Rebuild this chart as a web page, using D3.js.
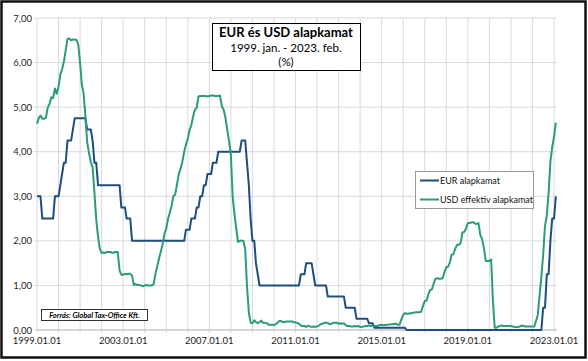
<!DOCTYPE html>
<html>
<head>
<meta charset="utf-8">
<script src="https://cdn.jsdelivr.net/npm/d3@7"></script>
<style>
  body { margin: 0; background: #fff; }
  svg { display: block; font-family: Lato, "Noto Sans", sans-serif; }
</style>
</head>
<body>
<svg id="chart" width="588" height="361"></svg>
<script>
// havi adatok 1999.01 - 2023.02
const startMonth = new Date(1999, 0, 1);

const eurRate = [
  3.00, 3.00, 3.00, 2.50, 2.50, 2.50, 2.50, 2.50, 2.50, 2.50, 3.00, 3.00, // 1999
  3.00, 3.25, 3.50, 3.75, 3.75, 4.25, 4.25, 4.25, 4.50, 4.75, 4.75, 4.75, // 2000
  4.75, 4.75, 4.75, 4.75, 4.50, 4.50, 4.50, 4.25, 3.75, 3.75, 3.25, 3.25, // 2001
  3.25, 3.25, 3.25, 3.25, 3.25, 3.25, 3.25, 3.25, 3.25, 3.25, 3.25, 2.75, // 2002
  2.75, 2.75, 2.50, 2.50, 2.50, 2.00, 2.00, 2.00, 2.00, 2.00, 2.00, 2.00, // 2003
  2.00, 2.00, 2.00, 2.00, 2.00, 2.00, 2.00, 2.00, 2.00, 2.00, 2.00, 2.00, // 2004
  2.00, 2.00, 2.00, 2.00, 2.00, 2.00, 2.00, 2.00, 2.00, 2.00, 2.00, 2.25, // 2005
  2.25, 2.25, 2.50, 2.50, 2.50, 2.75, 2.75, 3.00, 3.00, 3.25, 3.25, 3.50, // 2006
  3.50, 3.50, 3.75, 3.75, 3.75, 4.00, 4.00, 4.00, 4.00, 4.00, 4.00, 4.00, // 2007
  4.00, 4.00, 4.00, 4.00, 4.00, 4.00, 4.25, 4.25, 4.25, 3.75, 3.25, 2.50, // 2008
  2.00, 2.00, 1.50, 1.25, 1.00, 1.00, 1.00, 1.00, 1.00, 1.00, 1.00, 1.00, // 2009
  1.00, 1.00, 1.00, 1.00, 1.00, 1.00, 1.00, 1.00, 1.00, 1.00, 1.00, 1.00, // 2010
  1.00, 1.00, 1.00, 1.25, 1.25, 1.25, 1.50, 1.50, 1.50, 1.50, 1.25, 1.00, // 2011
  1.00, 1.00, 1.00, 1.00, 1.00, 1.00, 0.75, 0.75, 0.75, 0.75, 0.75, 0.75, // 2012
  0.75, 0.75, 0.75, 0.75, 0.50, 0.50, 0.50, 0.50, 0.50, 0.50, 0.25, 0.25, // 2013
  0.25, 0.25, 0.25, 0.25, 0.25, 0.15, 0.15, 0.15, 0.05, 0.05, 0.05, 0.05, // 2014
  0.05, 0.05, 0.05, 0.05, 0.05, 0.05, 0.05, 0.05, 0.05, 0.05, 0.05, 0.05, // 2015
  0.05, 0.05, 0.00, 0.00, 0.00, 0.00, 0.00, 0.00, 0.00, 0.00, 0.00, 0.00, // 2016
  0.00, 0.00, 0.00, 0.00, 0.00, 0.00, 0.00, 0.00, 0.00, 0.00, 0.00, 0.00, // 2017
  0.00, 0.00, 0.00, 0.00, 0.00, 0.00, 0.00, 0.00, 0.00, 0.00, 0.00, 0.00, // 2018
  0.00, 0.00, 0.00, 0.00, 0.00, 0.00, 0.00, 0.00, 0.00, 0.00, 0.00, 0.00, // 2019
  0.00, 0.00, 0.00, 0.00, 0.00, 0.00, 0.00, 0.00, 0.00, 0.00, 0.00, 0.00, // 2020
  0.00, 0.00, 0.00, 0.00, 0.00, 0.00, 0.00, 0.00, 0.00, 0.00, 0.00, 0.00, // 2021
  0.00, 0.00, 0.00, 0.00, 0.00, 0.00, 0.50, 0.50, 1.25, 1.25, 2.00, 2.50, // 2022
  2.50, 3.00                                                              // 2023
];

const usdRate = [
  4.63, 4.76, 4.81, 4.74, 4.74, 4.76, 4.99, 5.07, 5.22, 5.20, 5.42, 5.30, // 1999
  5.45, 5.73, 5.85, 6.02, 6.27, 6.53, 6.54, 6.50, 6.52, 6.51, 6.51, 6.40, // 2000
  5.98, 5.49, 5.31, 4.80, 4.21, 3.97, 3.77, 3.65, 3.07, 2.49, 2.09, 1.82, // 2001
  1.73, 1.74, 1.73, 1.75, 1.75, 1.75, 1.73, 1.74, 1.75, 1.75, 1.34, 1.24, // 2002
  1.24, 1.26, 1.25, 1.26, 1.26, 1.22, 1.01, 1.03, 1.01, 1.01, 1.00, 0.98, // 2003
  1.00, 1.01, 1.00, 1.00, 1.00, 1.03, 1.26, 1.43, 1.61, 1.76, 1.93, 2.16, // 2004
  2.28, 2.50, 2.63, 2.79, 3.00, 3.04, 3.26, 3.50, 3.62, 3.78, 4.00, 4.16, // 2005
  4.29, 4.49, 4.59, 4.79, 4.94, 4.99, 5.24, 5.25, 5.25, 5.25, 5.25, 5.24, // 2006
  5.25, 5.26, 5.26, 5.25, 5.25, 5.25, 5.26, 5.02, 4.94, 4.76, 4.49, 4.24, // 2007
  3.94, 2.98, 2.61, 2.28, 1.98, 2.00, 2.01, 2.00, 1.81, 0.97, 0.39, 0.16, // 2008
  0.15, 0.22, 0.18, 0.15, 0.18, 0.21, 0.16, 0.16, 0.15, 0.12, 0.12, 0.12, // 2009
  0.11, 0.13, 0.16, 0.20, 0.20, 0.18, 0.18, 0.19, 0.19, 0.19, 0.19, 0.18, // 2010
  0.17, 0.16, 0.14, 0.10, 0.09, 0.09, 0.07, 0.10, 0.08, 0.07, 0.08, 0.07, // 2011
  0.08, 0.10, 0.13, 0.14, 0.16, 0.16, 0.16, 0.13, 0.14, 0.16, 0.16, 0.16, // 2012
  0.14, 0.15, 0.14, 0.15, 0.11, 0.09, 0.09, 0.08, 0.08, 0.09, 0.08, 0.09, // 2013
  0.07, 0.07, 0.08, 0.09, 0.09, 0.10, 0.09, 0.09, 0.09, 0.09, 0.09, 0.12, // 2014
  0.11, 0.11, 0.11, 0.12, 0.12, 0.13, 0.13, 0.14, 0.14, 0.12, 0.12, 0.24, // 2015
  0.34, 0.38, 0.36, 0.37, 0.37, 0.38, 0.39, 0.40, 0.40, 0.40, 0.41, 0.54, // 2016
  0.65, 0.66, 0.79, 0.90, 0.91, 1.04, 1.15, 1.16, 1.15, 1.15, 1.16, 1.30, // 2017
  1.41, 1.42, 1.51, 1.69, 1.70, 1.82, 1.91, 1.91, 1.95, 2.19, 2.20, 2.27, // 2018
  2.40, 2.40, 2.41, 2.42, 2.39, 2.38, 2.40, 2.13, 2.04, 1.83, 1.55, 1.55, // 2019
  1.55, 1.58, 0.65, 0.05, 0.05, 0.08, 0.09, 0.10, 0.09, 0.09, 0.09, 0.09, // 2020
  0.09, 0.08, 0.07, 0.07, 0.06, 0.08, 0.10, 0.09, 0.08, 0.08, 0.08, 0.08, // 2021
  0.08, 0.08, 0.20, 0.33, 0.77, 1.21, 1.68, 2.33, 2.56, 3.08, 3.78, 4.10, // 2022
  4.33, 4.65                                                              // 2023
];

const yTicks = [0, 1, 2, 3, 4, 5, 6, 7];
const xLabelYears = [1999, 2003, 2007, 2011, 2015, 2019, 2023];
const seriesNames = ["EUR alapkamat", "USD effektiv alapkamat"];
const seriesColors = ["#1d4e7c", "#2b9c7b"];

const months = eurRate.map((d, i) => d3.timeMonth.offset(startMonth, i));

const svg = d3.select("#chart");
const plot = { left: 37, right: 554, top: 18, bottom: 330 };

const x = d3.scaleTime()
  .domain([new Date(1999, 0, 1), new Date(2023, 0, 1)])
  .range([plot.left, plot.right]);
const y = d3.scaleLinear().domain([0, 7]).range([plot.bottom, plot.top]);

// racs
const years = d3.timeYear.range(new Date(1999, 0, 1), new Date(2023, 0, 2));
svg.append("g")
  .selectAll("line")
  .data(years)
  .join("line")
  .attr("x1", d => x(d)).attr("x2", d => x(d))
  .attr("y1", plot.top).attr("y2", plot.bottom + 3)
  .attr("stroke", "#d9d9d9").attr("stroke-width", 1);

svg.append("g")
  .selectAll("line")
  .data(yTicks)
  .join("line")
  .attr("x1", plot.left - 3).attr("x2", plot.right + 3)
  .attr("y1", d => y(d)).attr("y2", d => y(d))
  .attr("stroke", "#d9d9d9").attr("stroke-width", 1);

svg.append("line")
  .attr("x1", plot.left).attr("x2", plot.right + 3)
  .attr("y1", plot.bottom).attr("y2", plot.bottom)
  .attr("stroke", "#bfbfbf");

// tengely feliratok
svg.append("g")
  .selectAll("text")
  .data(yTicks)
  .join("text")
  .attr("x", plot.left - 5)
  .attr("y", d => y(d) + 3.5)
  .attr("text-anchor", "end")
  .attr("font-size", 9.5)
  .attr("fill", "#222")
  .text(d => d3.format(".2f")(d).replace(".", ","));

svg.append("g")
  .selectAll("text")
  .data(xLabelYears)
  .join("text")
  .attr("x", d => x(new Date(d, 0, 1)))
  .attr("y", plot.bottom + 14)
  .attr("text-anchor", "middle")
  .attr("font-size", 9.5)
  .attr("fill", "#222")
  .text(d => d + ".01.01");

// vonalak
const line = d3.line()
  .x((d, i) => x(months[i]))
  .y(d => y(d));

[eurRate, usdRate].forEach((s, k) => {
  svg.append("path")
    .datum(s)
    .attr("fill", "none")
    .attr("stroke", seriesColors[k])
    .attr("stroke-width", 2)
    .attr("stroke-linejoin", "round")
    .attr("d", line);
});

// cim doboz
svg.append("rect")
  .attr("x", 212.5).attr("y", 23.5).attr("width", 148).attr("height", 47)
  .attr("fill", "#fff").attr("stroke", "#000");
const title = svg.append("g").attr("text-anchor", "middle");
title.append("text").attr("x", 286).attr("y", 37)
  .attr("font-size", 13).attr("font-weight", "bold").text("EUR és USD alapkamat");
title.append("text").attr("x", 286).attr("y", 52)
  .attr("font-size", 11.5).text("1999. jan. - 2023. feb.");
title.append("text").attr("x", 286).attr("y", 66)
  .attr("font-size", 11.5).text("(%)");

// jelmagyarazat
svg.append("rect")
  .attr("x", 415.5).attr("y", 171.5).attr("width", 118).attr("height", 37)
  .attr("fill", "#fff").attr("stroke", "#999");
const legend = svg.append("g")
  .selectAll("g")
  .data(seriesNames)
  .join("g")
  .attr("transform", (d, i) => `translate(420,${180.5 + i * 19})`);
legend.append("line")
  .attr("x1", 0).attr("x2", 19)
  .attr("stroke", (d, i) => seriesColors[i]).attr("stroke-width", 2);
legend.append("text")
  .attr("x", 20).attr("y", 3.5)
  .attr("font-size", 9).attr("fill", "#111")
  .text(d => d);

// forras
svg.append("rect")
  .attr("x", 41.5).attr("y", 309.5).attr("width", 106).attr("height", 11)
  .attr("fill", "#fff").attr("stroke", "#333");
svg.append("text")
  .attr("x", 94.5).attr("y", 318)
  .attr("text-anchor", "middle")
  .attr("font-size", 7.5).attr("font-weight", "bold").attr("font-style", "italic")
  .text("Forrás: Global Tax-Office Kft.");

// keret
svg.append("rect")
  .attr("x", 1.5).attr("y", 1.5).attr("width", 584).attr("height", 356)
  .attr("fill", "none").attr("stroke", "#111").attr("stroke-width", 2.5);
</script>
</body>
</html>
